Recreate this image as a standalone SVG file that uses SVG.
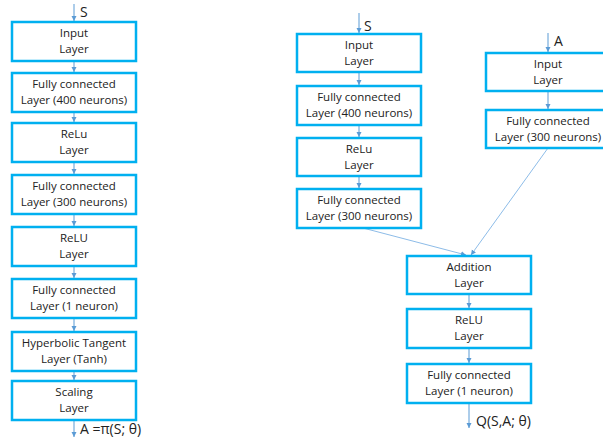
<svg xmlns="http://www.w3.org/2000/svg" width="603" height="439" viewBox="0 0 603 439">
<defs>
<marker id="ah" markerWidth="6" markerHeight="6" refX="5" refY="3" orient="auto" markerUnits="userSpaceOnUse">
<path d="M0,0.5 L5,3 L0,5.5 Z" fill="#5B9BD5"/>
</marker>
<style>
.box{fill:#fff;stroke:#00B0F0;stroke-width:2.5}
.t{font-family:"Open Sans","Liberation Sans",sans-serif;font-size:11.5px;fill:#222;text-anchor:middle}
.lbl{font-family:"Open Sans","Liberation Sans",sans-serif;font-size:14px;fill:#222}
.c{stroke:#5B9BD5;stroke-width:1;fill:none;marker-end:url(#ah)}
.c2{stroke:#8DBCE8;stroke-width:1;fill:none;marker-end:url(#ah)}
</style>
</defs>
<rect width="603" height="439" fill="#fff"/>
<g id="connectors">
<line class="c" x1="74" y1="4" x2="74" y2="21"/>
<line class="c" x1="74" y1="61" x2="74" y2="72"/>
<line class="c" x1="74" y1="112" x2="74" y2="122"/>
<line class="c" x1="74" y1="162" x2="74" y2="174"/>
<line class="c" x1="74" y1="214" x2="74" y2="226"/>
<line class="c" x1="74" y1="266" x2="74" y2="278"/>
<line class="c" x1="74" y1="318" x2="74" y2="331"/>
<line class="c" x1="74" y1="371" x2="74" y2="380"/>
<line class="c" x1="74" y1="420" x2="74" y2="437"/>
<line class="c" x1="359" y1="13" x2="359" y2="33"/>
<line class="c" x1="359" y1="72" x2="359" y2="85"/>
<line class="c" x1="359" y1="125" x2="359" y2="137"/>
<line class="c" x1="359" y1="176" x2="359" y2="188"/>
<line class="c" x1="548" y1="33" x2="548" y2="52"/>
<line class="c" x1="548" y1="91" x2="548" y2="109"/>
<line class="c2" x1="363" y1="228" x2="466" y2="255"/>
<line class="c2" x1="548" y1="148" x2="471" y2="255"/>
<line class="c" x1="469" y1="294" x2="469" y2="308"/>
<line class="c" x1="469" y1="348" x2="469" y2="363"/>
<line class="c" x1="469" y1="403" x2="469" y2="428"/>
</g>
<g id="labels">
<text class="lbl" x="80" y="17">S</text>
<text class="lbl" x="80" y="434">A =π(S; θ)</text>
<text class="lbl" x="364" y="31">S</text>
<text class="lbl" x="554" y="46">A</text>
<text class="lbl" x="476" y="426">Q(S,A; θ)</text>
</g>
<g id="l-input"><rect class="box" x="12" y="22" width="124" height="39"/><text class="t" x="74" y="37">Input</text><text class="t" x="74" y="53">Layer</text></g>
<g id="l-fc400"><rect class="box" x="12" y="73" width="124" height="39"/><text class="t" x="74" y="88">Fully connected</text><text class="t" x="74" y="104">Layer (400 neurons)</text></g>
<g id="l-relu1"><rect class="box" x="12" y="123" width="124" height="39"/><text class="t" x="74" y="138">ReLu</text><text class="t" x="74" y="154">Layer</text></g>
<g id="l-fc300"><rect class="box" x="12" y="175" width="124" height="39"/><text class="t" x="74" y="190">Fully connected</text><text class="t" x="74" y="206">Layer (300 neurons)</text></g>
<g id="l-relu2"><rect class="box" x="12" y="227" width="124" height="39"/><text class="t" x="74" y="242">ReLU</text><text class="t" x="74" y="258">Layer</text></g>
<g id="l-fc1"><rect class="box" x="12" y="279" width="124" height="39"/><text class="t" x="74" y="294">Fully connected</text><text class="t" x="74" y="310">Layer (1 neuron)</text></g>
<g id="l-tanh"><rect class="box" x="12" y="332" width="124" height="39"/><text class="t" x="74" y="347">Hyperbolic Tangent</text><text class="t" x="74" y="363">Layer (Tanh)</text></g>
<g id="l-scale"><rect class="box" x="12" y="381" width="124" height="39"/><text class="t" x="74" y="396">Scaling</text><text class="t" x="74" y="412">Layer</text></g>
<g id="s-input"><rect class="box" x="297" y="34" width="124" height="38"/><text class="t" x="359" y="49">Input</text><text class="t" x="359" y="65">Layer</text></g>
<g id="s-fc400"><rect class="box" x="297" y="86" width="124" height="39"/><text class="t" x="359" y="101">Fully connected</text><text class="t" x="359" y="117">Layer (400 neurons)</text></g>
<g id="s-relu"><rect class="box" x="297" y="138" width="124" height="38"/><text class="t" x="359" y="153">ReLu</text><text class="t" x="359" y="169">Layer</text></g>
<g id="s-fc300"><rect class="box" x="297" y="189" width="124" height="39"/><text class="t" x="359" y="204">Fully connected</text><text class="t" x="359" y="220">Layer (300 neurons)</text></g>
<g id="a-input"><rect class="box" x="486" y="53" width="124" height="38"/><text class="t" x="548" y="68">Input</text><text class="t" x="548" y="84">Layer</text></g>
<g id="a-fc300"><rect class="box" x="486" y="110" width="124" height="38"/><text class="t" x="548" y="125">Fully connected</text><text class="t" x="548" y="141">Layer (300 neurons)</text></g>
<g id="add"><rect class="box" x="407" y="256" width="124" height="38"/><text class="t" x="469" y="271">Addition</text><text class="t" x="469" y="287">Layer</text></g>
<g id="relu-q"><rect class="box" x="407" y="309" width="124" height="39"/><text class="t" x="469" y="324">ReLU</text><text class="t" x="469" y="340">Layer</text></g>
<g id="fc1-q"><rect class="box" x="407" y="364" width="124" height="39"/><text class="t" x="469" y="379">Fully connected</text><text class="t" x="469" y="395">Layer (1 neuron)</text></g>
</svg>
